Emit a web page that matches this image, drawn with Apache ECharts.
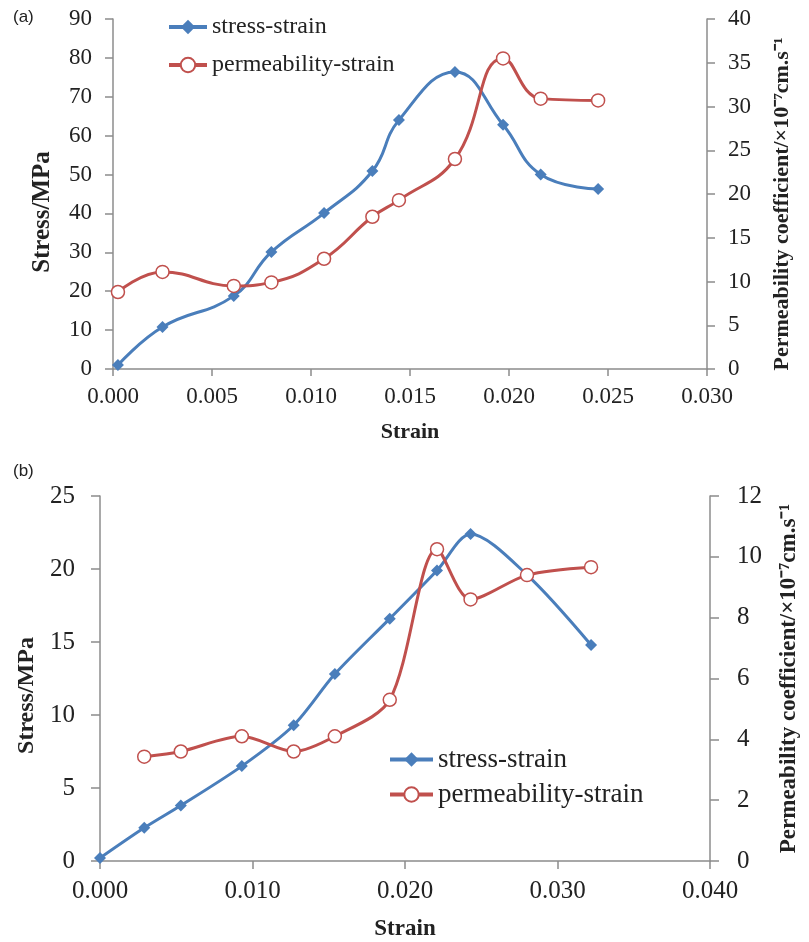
<!DOCTYPE html>
<html>
<head>
<meta charset="utf-8">
<script src="https://cdn.jsdelivr.net/npm/echarts@6/dist/echarts.min.js"></script>
<style>
  html, body { margin: 0; padding: 0; background: #fff; }
  #chart { width: 809px; height: 942px; }
</style>
</head>
<body>
<div id="chart"></div>
<script>
// (a) — same strain values for both curves
const strainA = [0.00025, 0.0025, 0.0061, 0.0080, 0.01066, 0.0131, 0.01444, 0.01727, 0.0197, 0.0216, 0.0245]
const stressA = [1, 10.8, 18.8, 30.1, 40.1, 50.9, 64, 76.4, 62.8, 50, 46.3]
const permA   = [8.8, 11.1, 9.5, 9.9, 12.6, 17.4, 19.3, 24.0, 35.5, 30.9, 30.7]

// (b)
const strainBStress = [0, 0.0029, 0.0053, 0.0093, 0.0127, 0.0154, 0.0190, 0.0221, 0.0243, 0.0280, 0.0322]
const stressB       = [0.2, 2.27, 3.8, 6.5, 9.3, 12.8, 16.6, 19.9, 22.4, 19.6, 14.8]
const strainBPerm   = [0.0029, 0.0053, 0.0093, 0.0127, 0.0154, 0.0190, 0.0221, 0.0243, 0.0280, 0.0322]
const permB         = [3.43, 3.6, 4.1, 3.6, 4.1, 5.3, 10.25, 8.6, 9.4, 9.66]

const NAMES = ['stress-strain', 'permeability-strain']
const PERM_NAME = 'Permeability coefficient/×10⁻⁷cm.s⁻¹'

const BLUE = '#4a7ebb'
const RED  = '#c0504d'
const AXIS = '#8c8c8c'
const TXT  = '#222'
const FONT = '"Liberation Serif", "Times New Roman", serif'

const zip = (xs, ys) => xs.map((x, i) => [x, ys[i]])

function valueAxis(opt, labelSize, nameSize, tickLen) {
  const base = {
    type: 'value',
    axisLine: { show: true, lineStyle: { color: AXIS, width: 1.5 } },
    axisTick: { show: true, inside: false, length: tickLen, lineStyle: { color: AXIS, width: 1.5 } },
    splitLine: { show: false },
    nameTextStyle: { color: TXT, fontFamily: FONT, fontSize: nameSize, fontWeight: 'bold' },
  }
  const out = Object.assign(base, opt)
  out.axisLabel = Object.assign({ color: TXT, fontFamily: FONT, fontSize: labelSize }, opt.axisLabel)
  if (opt.namePad) out.nameTextStyle.padding = opt.namePad
  return out
}

function stressSeries(x, y, xi, yi, smooth) {
  return {
    name: NAMES[0], type: 'line', xAxisIndex: xi, yAxisIndex: yi,
    data: zip(x, y), smooth,
    symbol: 'diamond', symbolSize: 12,
    lineStyle: { color: BLUE, width: 3 },
    itemStyle: { color: BLUE },
    z: 2,
  }
}

function permSeries(x, y, xi, yi, smooth) {
  return {
    name: NAMES[1], type: 'line', xAxisIndex: xi, yAxisIndex: yi,
    data: zip(x, y), smooth,
    symbol: 'circle', symbolSize: 13,
    lineStyle: { color: RED, width: 3 },
    itemStyle: { color: '#fff', borderColor: RED, borderWidth: 1.5 },
    z: 3,
  }
}

const chart = echarts.init(document.getElementById('chart'))
chart.setOption({
  animation: false,
  backgroundColor: '#fff',
  textStyle: { fontFamily: FONT },
  graphic: [
    { type: 'text', left: 13, top: 9, style: { text: '(a)', font: '17px "Liberation Sans", Arial, sans-serif', fill: '#222' } },
    { type: 'text', left: 13, top: 463, style: { text: '(b)', font: '17px "Liberation Sans", Arial, sans-serif', fill: '#222' } },
  ],
  legend: [
    {
      data: NAMES, orient: 'vertical', left: 162, top: 10,
      itemWidth: 38, itemHeight: 18, itemGap: 14,
      lineStyle: { width: 4 },
      textStyle: { color: TXT, fontFamily: FONT, fontSize: 24 },
    },
    {
      data: NAMES, orient: 'vertical', left: 383, top: 741,
      itemWidth: 43, itemHeight: 18, itemGap: 8,
      lineStyle: { width: 4 },
      textStyle: { color: TXT, fontFamily: FONT, fontSize: 27 },
    },
  ],
  grid: [
    { left: 113, top: 19, width: 594, height: 350 },
    { left: 100, top: 496, width: 618, height: 374 },
  ],
  xAxis: [
    valueAxis({
      gridIndex: 0, min: 0, max: 0.03, interval: 0.005,
      name: 'Strain', nameLocation: 'middle', nameGap: 52,
      axisLabel: { margin: 16, formatter: v => v.toFixed(3) },
    }, 23, 22, 7),
    valueAxis({
      gridIndex: 1, min: 0, max: 0.04, interval: 0.01,
      name: 'Strain', nameLocation: 'middle', nameGap: 57,
      axisLabel: { margin: 18, formatter: v => v.toFixed(3) },
    }, 25, 23, 8),
  ],
  yAxis: [
    valueAxis({
      gridIndex: 0, min: 0, max: 90, interval: 10, position: 'left',
      name: 'Stress/MPa', nameLocation: 'middle', nameRotate: 90, nameGap: 58,
      namePad: [0, 36, 0, 0],
      axisLabel: { margin: 21 },
    }, 23, 25, 8),
    valueAxis({
      gridIndex: 0, min: 0, max: 40, interval: 5, position: 'right',
      name: PERM_NAME, nameLocation: 'middle', nameRotate: 90, nameGap: 64,
      namePad: [0, 20, 0, 0],
      axisLabel: { margin: 21 },
    }, 23, 22, 8),
    valueAxis({
      gridIndex: 1, min: 0, max: 25, interval: 5, position: 'left',
      name: 'Stress/MPa', nameLocation: 'middle', nameRotate: 90, nameGap: 61,
      namePad: [0, 34, 0, 0],
      axisLabel: { margin: 25 },
    }, 25, 24, 9),
    valueAxis({
      gridIndex: 1, min: 0, max: 12, interval: 2, position: 'right',
      name: PERM_NAME, nameLocation: 'middle', nameRotate: 90, nameGap: 68,
      axisLabel: { margin: 27 },
    }, 25, 23, 9),
  ],
  series: [
    stressSeries(strainA, stressA, 0, 0, 0.45),
    permSeries(strainA, permA, 0, 1, 0.45),
    stressSeries(strainBStress, stressB, 1, 2, 0.3),
    permSeries(strainBPerm, permB, 1, 3, 0.3),
  ],
})
</script>
</body>
</html>
